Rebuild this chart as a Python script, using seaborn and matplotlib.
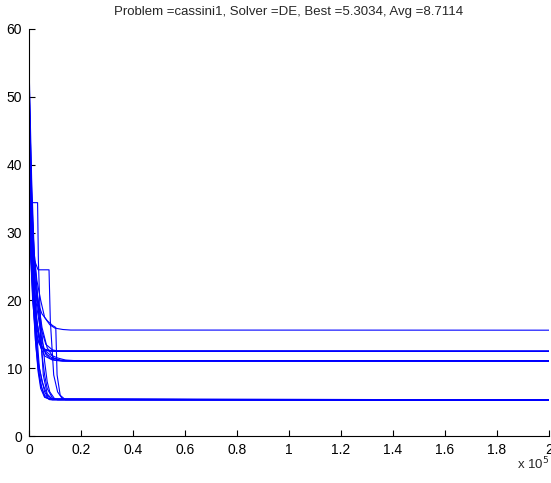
import numpy as np
import pandas as pd
import matplotlib
matplotlib.use("Agg")
import matplotlib.pyplot as plt
import seaborn as sns
from matplotlib.ticker import FuncFormatter

# convergence history of each DE run: evaluations (x 1e3) and best objective value
run_evals = [
    [0, 0.5, 1, 2, 3, 4, 5, 6, 8, 200],
    [0, 0.5, 1, 1.5, 2.5, 3.5, 4.5, 6, 9, 200],
    [0, 0.3, 3.3, 3.6, 4.5, 5.5, 7, 9, 200],
    [0, 0.5, 1, 2, 3.5, 7.7, 8.2, 9.5, 11, 13, 200],
    [0, 1, 2, 3, 5, 7, 9, 10.3, 10.8, 12, 14, 200],
    [0, 0.7, 1.5, 2.5, 3.5, 5, 7, 9, 200],
    [0, 1, 2, 3, 4, 5, 6, 7, 9, 11, 200],
    [0, 0.5, 1.5, 2.5, 3.5, 4.5, 6, 8, 200],
    [0, 1, 2, 4, 5, 6, 7, 8, 10, 200],
    [0, 0.5, 1, 2, 3, 4, 6, 7.5, 200],
    [0, 1, 2, 3, 4, 5, 7, 9, 12, 16, 200],
    [0, 1, 2, 3, 5, 6.5, 8, 10, 14, 200],
    [0, 0.5, 1.5, 3, 4, 4.9, 8, 11, 14, 18, 200],
    [0, 0.8, 2, 3, 4.5, 6, 9, 13, 200],
    [0, 1, 2, 3.5, 5, 7, 9.5, 12, 200],
    [0, 1, 2, 3, 4, 5, 6, 8, 200],
    [0, 0.5, 1.5, 2.5, 3.5, 5, 7, 10, 200],
    [0, 1, 2, 3, 4.5, 6.5, 9, 11, 200],
    [0, 0.6, 1.4, 2.5, 4, 6, 9, 200],
    [0, 1, 2, 3, 4.5, 6, 8, 10, 13, 16, 200],
]
run_best = [
    [52, 40, 30, 20, 13, 9, 7, 5.8, 5.35, 5.3034],
    [45, 34, 26, 21, 14, 9.5, 7, 5.7, 5.32, 5.3034],
    [56, 34.4, 34.4, 26, 15, 9, 6.2, 5.4, 5.3034],
    [50, 38, 30, 26, 24.5, 24.5, 17, 9, 6.5, 5.4, 5.3034],
    [48, 33, 24, 20, 18, 17, 16.3, 16, 9, 6, 5.35, 5.3034],
    [42, 30, 22, 16, 11, 8, 6, 5.4, 5.3034],
    [55, 38, 27, 22, 17, 12, 9, 7, 5.6, 5.33, 5.3034],
    [38, 28, 20, 14, 10, 7.5, 6, 5.4, 5.3034],
    [46, 32, 23, 19, 15, 11, 8, 6.5, 5.4, 5.3034],
    [53, 42, 33, 22, 15, 10, 6.5, 5.5, 5.3034],
    [47, 31, 22, 17, 14.5, 13, 12, 11.5, 11.2, 11.07, 11.05],
    [50, 30, 22, 19, 14, 12, 11.5, 11.2, 11.06, 11.05],
    [40, 28, 22, 17, 14.5, 13, 12, 11.5, 11.2, 11.1, 11.1],
    [44, 30, 20, 16, 13, 11.8, 11.2, 11.02, 11.0],
    [52, 36, 26, 20, 16, 13, 11.5, 11.12, 11.1],
    [49, 32, 22, 17, 14.5, 13.2, 12.7, 12.5, 12.5],
    [43, 29, 21, 16, 14, 13, 12.6, 12.5, 12.5],
    [54, 35, 25, 20, 16, 13.5, 12.7, 12.52, 12.5],
    [41, 27, 20, 15.5, 13.5, 12.8, 12.55, 12.5],
    [51, 34, 27, 23, 20, 17.5, 16.4, 15.9, 15.7, 15.62, 15.6],
]
x_ticks = [0, 0.2, 0.4, 0.6, 0.8, 1.0, 1.2, 1.4, 1.6, 1.8, 2.0]
y_ticks = [0, 10, 20, 30, 40, 50, 60]
title = "Problem =cassini1, Solver =DE, Best =5.3034, Avg =8.7114"

rows = []
for i, (xs, ys) in enumerate(zip(run_evals, run_best)):
    for x, y in zip(xs, ys):
        rows.append((i, x * 1e3, y))
df = pd.DataFrame(rows, columns=["run", "evals", "best"])

sns.set_style("white")
plt.rcParams["font.family"] = ["Liberation Sans", "DejaVu Sans"]

fig = plt.figure(figsize=(5.51, 4.83), dpi=100)
ax = fig.add_axes([29 / 551, 47 / 483, 520 / 551, 407 / 483])

sns.lineplot(data=df, x="evals", y="best", units="run", estimator=None,
             color="#0000ff", lw=0.8, sort=False, ax=ax, legend=False)

ax.set_xlim(0, 2e5)
ax.set_ylim(0, 60)
ax.set_xticks([t * 1e5 for t in x_ticks])
ax.xaxis.set_major_formatter(FuncFormatter(lambda v, p: f"{v / 1e5:g}"))
ax.set_yticks(y_ticks)
ax.tick_params(direction="in", length=4, width=0.8, labelsize=10, colors="black",
               pad=5, top=False, right=False, bottom=True, left=True)
for s in ["top", "right"]:
    ax.spines[s].set_visible(False)
for s in ["left", "bottom"]:
    ax.spines[s].set_color("black")
    ax.spines[s].set_linewidth(0.8)
ax.set_xlabel("")
ax.set_ylabel("")
ax.set_title(title, fontsize=9.5, pad=10)
fig.text(517 / 551, 1 - 469 / 483, "x 10$^5$", fontsize=9.5, ha="left", va="baseline")

fig.savefig("out.png", dpi=100)
